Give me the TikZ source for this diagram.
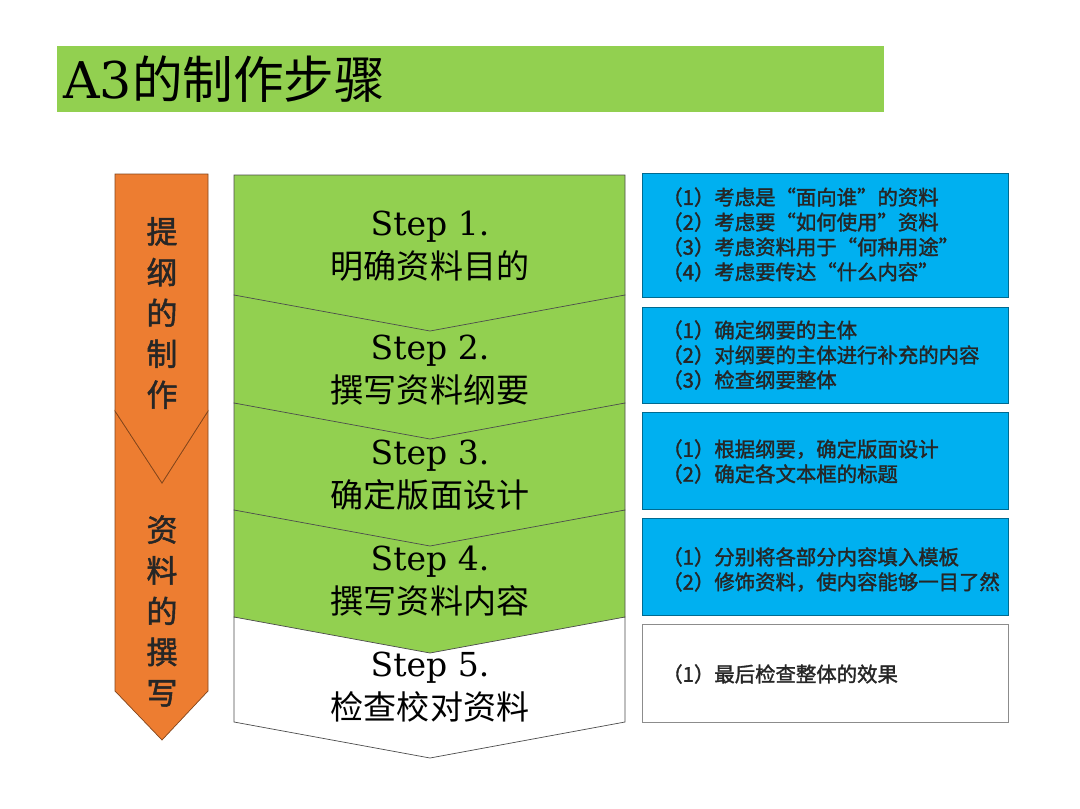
\documentclass[tikz,border=0pt]{standalone}
\usepackage{fontspec}
\setmainfont{DejaVu Serif}
\newfontfamily\cjk{Noto Sans CJK SC}
\newfontfamily\cjkbold[FakeBold=1.6]{Noto Sans CJK SC}
\usepackage{tikz}
\usetikzlibrary{positioning}
\definecolor{barGreen}{HTML}{92D050}
\definecolor{stepGreen}{HTML}{92D050}
\definecolor{sideOrange}{HTML}{ED7D31}
\definecolor{noteBlue}{HTML}{00B0F0}

\begin{document}
\begin{tikzpicture}[
      x=0.025cm, y=-0.025cm,
      stepshape/.style={draw=black!70, line width=0.5pt},
      sideshape/.style={draw=sideOrange!55!black, fill=sideOrange, line width=0.5pt},
      notebox/.style={draw=#1!60!black, line width=0.6pt},
      steplabel/.style={align=center, inner sep=0pt, font=\fontsize{23.5}{30.5}\selectfont},
      notetext/.style={anchor=west, align=left, inner sep=0pt, text=black!85, font=\cjkbold\fontsize{14.5}{17.7}\selectfont},
      sidetext/.style={align=center, inner sep=0pt, text=black!85, font=\cjkbold\fontsize{22}{29}\selectfont}
    ]
    \useasboundingbox (0,0) rectangle (1080,809);
    % Title bar
    \fill[barGreen] (57,46) rectangle (884,112);
    \node[anchor=west, inner sep=0pt, font=\fontsize{36}{42}\selectfont] (title) at (63,79)
      {A3{\cjk 的制作步骤}};
    % Orange side arrow: lower chevron first, then upper pentagon
    \draw[sideshape] (115,411) -- (162,483) -- (208,411) -- (208,691) -- (162,740) -- (115,691) -- cycle;
    \draw[sideshape] (115,174) -- (208,174) -- (208,411) -- (162,483) -- (115,411) -- cycle;
    \node[sidetext] (outline) at (162,313) {提\\纲\\的\\制\\作};
    \node[sidetext] (writing) at (162,611) {资\\料\\的\\撰\\写};
    % Step arrows, drawn from the bottom up so each one overlaps the next
    \foreach \i/\t/\s/\col in {5/617/722/white, 4/510/617/stepGreen, 3/403/510/stepGreen,
                               2/295/403/stepGreen, 1/175/295/stepGreen}{
      \draw[stepshape, fill=\col] (234,\t) -- (625,\t) -- (625,\s) -- (430,\s+36) -- (234,\s) -- cycle;
    }
    \foreach \i/\y/\lbl in {1/246.5/明确资料目的, 2/370/撰写资料纲要, 3/475.5/确定版面设计,
                            4/581.5/撰写资料内容, 5/687.5/检查校对资料}{
      \node[steplabel] (step\i) at (430,\y) {Step \i.\\{\cjk \lbl}};
    }
    % Note boxes on the right
    \foreach \i/\t/\b/\col in {1/173/297/noteBlue, 2/307/403/noteBlue, 3/412/509/noteBlue,
                               4/518/615/noteBlue, 5/624/722/white}{
      \filldraw[notebox=\col, fill=\col] (642,\t) rectangle (1008,\b);
    }
    \draw[black!45, line width=0.6pt] (642,624) rectangle (1008,722);
    \node[notetext] (note1) at (662,234.5)
      {（1）考虑是“面向谁”的资料\\（2）考虑要“如何使用”资料\\（3）考虑资料用于“何种用途”\\（4）考虑要传达“什么内容”};
    \node[notetext] (note2) at (662,355)
      {（1）确定纲要的主体\\（2）对纲要的主体进行补充的内容\\（3）检查纲要整体};
    \node[notetext] (note3) at (662,461.5)
      {（1）根据纲要，确定版面设计\\（2）确定各文本框的标题};
    \node[notetext] (note4) at (662,569.5)
      {（1）分别将各部分内容填入模板\\（2）修饰资料，使内容能够一目了然};
    \node[notetext] (note5) at (662,674)
      {（1）最后检查整体的效果};
  \end{tikzpicture}
\end{document}
